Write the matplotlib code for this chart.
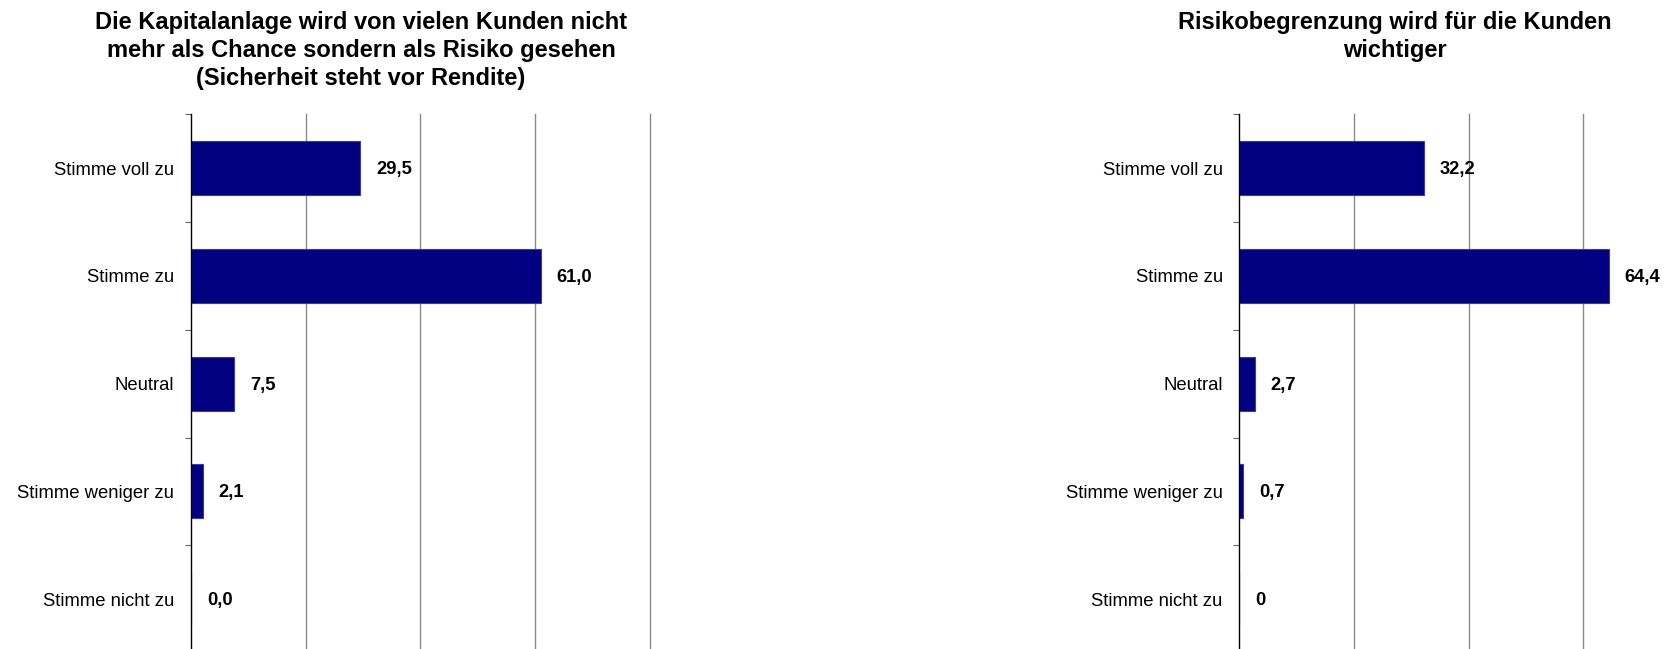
import matplotlib
matplotlib.use("Agg")
import matplotlib.pyplot as plt
import numpy as np

plt.rcParams['font.family'] = ['Liberation Sans', 'DejaVu Sans']

categories = ["Stimme voll zu", "Stimme zu", "Neutral", "Stimme weniger zu", "Stimme nicht zu"]
left_values = [29.5, 61.0, 7.5, 2.1, 0.0]
left_labels = ["29,5", "61,0", "7,5", "2,1", "0,0"]
right_values = [32.2, 64.4, 2.7, 0.7, 0.0]
right_labels = ["32,2", "64,4", "2,7", "0,7", "0"]
left_title = "Die Kapitalanlage wird von vielen Kunden nicht\nmehr als Chance sondern als Risiko gesehen\n(Sicherheit steht vor Rendite)"
right_title = "Risikobegrenzung wird für die Kunden\nwichtiger"
grid_ticks = [20, 40, 60, 80]

W, H = 1681, 649
fig = plt.figure(figsize=(W / 100, H / 100), dpi=100)

def make_axes(x0_px, values, labels):
    top_px = 114.4
    bot_px = 653.0
    ax = fig.add_axes([x0_px / W, 1 - bot_px / H, 458.8 / W, (bot_px - top_px) / H])
    ax.set_xlim(0, 80)
    ax.set_ylim(len(categories) - 0.5, -0.5)
    y = np.arange(len(categories))
    for g in grid_ticks:
        ax.axvline(g, color='#8a8a8a', lw=1.0, zorder=0, clip_on=False)
    ax.barh(y, values, height=0.5, color='#000080', edgecolor='#3a3aa8', linewidth=0.8, zorder=2)
    for yi, v, lab in zip(y, values, labels):
        ax.annotate(lab, xy=(v, yi), xytext=(16, -1.5), textcoords='offset pixels',
                    ha='left', va='center', fontsize=13.2, fontweight='bold', color='black')
    for s in ['top', 'right', 'bottom']:
        ax.spines[s].set_visible(False)
    ax.spines['left'].set_color('black')
    ax.spines['left'].set_linewidth(1.0)
    ax.set_xticks([])
    ax.set_yticks(y)
    ax.set_yticklabels(categories, fontsize=13.3)
    ax.tick_params(axis='y', which='major', length=0, pad=12)
    ax.set_yticks(np.arange(-0.5, len(categories), 1.0), minor=True)
    ax.tick_params(axis='y', which='minor', length=4, color='#606060', width=0.8)
    ax.set_facecolor('none')
    return ax

make_axes(190.8, left_values, left_labels)
make_axes(1239.3, right_values, right_labels)

fig.text(361 / W, 1 - 10.5 / H, left_title, ha='center', va='top', fontsize=17,
         fontweight='bold', linespacing=1.30)
fig.text(1395 / W, 1 - 10.5 / H, right_title, ha='center', va='top', fontsize=17,
         fontweight='bold', linespacing=1.30)

fig.savefig("out.png", dpi=100, facecolor='white')
